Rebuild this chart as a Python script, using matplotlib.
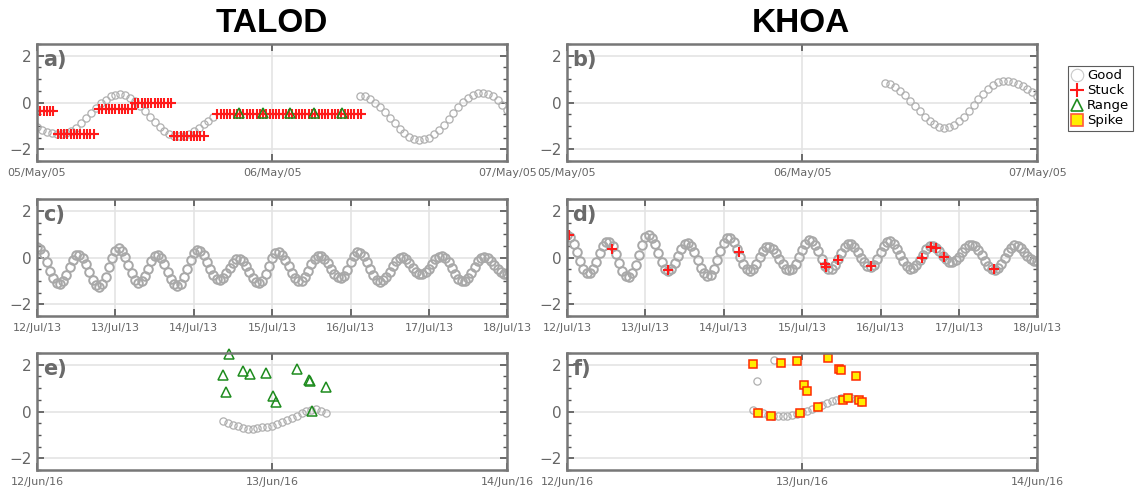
import numpy as np
import pandas as pd
import matplotlib
matplotlib.use("Agg")
import matplotlib.pyplot as plt
import matplotlib.dates as mdates
from matplotlib.lines import Line2D
from matplotlib.ticker import MultipleLocator

# ---------------- data ----------------
# a) TALOD, May 2005 - half-hourly good samples
a_t0 = pd.Timestamp("2005-05-05")
a_good1_h = np.arange(0, 18.01, 0.5)
a_good1 = [-1.05, -1.16, -1.25, -1.31, -1.34, -1.35,
           -1.31, -1.21, -1.07, -0.89, -0.68, -0.46, -0.24, -0.04, 0.13, 0.26, 0.33, 0.35,
           0.31, 0.20, 0.05, -0.14, -0.36, -0.60, -0.83, -1.04, -1.22, -1.35, -1.43, -1.45,
           -1.42, -1.35, -1.22, -1.08, -0.93, -0.78, -0.63]
a_good2_h = np.arange(33, 48.01, 0.5)
a_good2 = [0.30, 0.26, 0.16, 0.00, -0.19, -0.41, -0.65, -0.89, -1.11, -1.30, -1.46, -1.56, -1.60,
           -1.58, -1.50, -1.36, -1.18, -0.96, -0.71, -0.46, -0.21, 0.01, 0.19, 0.33, 0.41, 0.43,
           0.38, 0.27, 0.11, -0.10, -0.32]
# stuck runs: start hour, end hour, stuck level
a_stuck_runs = [(0.0, 1.75, -0.36), (2.1, 6.0, -1.36), (6.33, 9.85, -0.27),
                (10.0, 13.8, 0.0), (14.0, 17.3, -1.43), (18.4, 33.1, -0.50)]
a_range_h = [20.6, 23.1, 25.8, 28.3, 31.1]
a_range = [-0.45, -0.45, -0.44, -0.45, -0.44]

# b) KHOA, May 2005
b_good_h = np.arange(32.5, 48.01, 0.5)
b_good = [0.85, 0.79, 0.67, 0.51, 0.31, 0.08, -0.15, -0.38, -0.60, -0.79, -0.93, -1.03, -1.07,
          -1.05, -0.96, -0.81, -0.62, -0.38, -0.12, 0.14, 0.38, 0.60, 0.77, 0.88, 0.93,
          0.92, 0.88, 0.80, 0.70, 0.58, 0.44, 0.29]

# c) TALOD, July 2013 - hourly
c_t0 = pd.Timestamp("2013-07-12")
c_good_h = np.arange(0, 145)
c_good = [0.47, 0.38, 0.15, -0.19, -0.56, -0.88, -1.08,
          -1.11, -0.99, -0.73, -0.40, -0.11, 0.09,
          0.12, -0.01, -0.28, -0.63, -0.96, -1.19,
          -1.27, -1.15, -0.84, -0.42, 0.00, 0.30,
          0.40, 0.30, 0.04, -0.31, -0.67, -0.95, -1.08,
          -1.02, -0.80, -0.48, -0.16, 0.05,
          0.09, -0.03, -0.29, -0.61, -0.92, -1.14,
          -1.22, -1.12, -0.85, -0.48, -0.11, 0.18, 0.32,
          0.27, 0.09, -0.19, -0.49, -0.76, -0.93,
          -0.95, -0.86, -0.66, -0.43, -0.22, -0.08,
          -0.06, -0.16, -0.37, -0.63, -0.87, -1.04,
          -1.10, -0.99, -0.71, -0.35, -0.01, 0.20,
          0.24, 0.13, -0.09, -0.37, -0.66, -0.89, -1.01,
          -0.99, -0.84, -0.58, -0.29, -0.05, 0.08,
          0.07, -0.05, -0.25, -0.48, -0.69, -0.84,
          -0.88, -0.77, -0.52, -0.21, 0.06, 0.22,
          0.21, 0.06, -0.18, -0.47, -0.75, -0.95, -1.03,
          -0.98, -0.83, -0.60, -0.35, -0.13, 0.00,
          0.01, -0.08, -0.24, -0.43, -0.61, -0.71,
          -0.72, -0.63, -0.47, -0.27, -0.08, 0.04,
          0.08, -0.01, -0.20, -0.45, -0.72, -0.92, -1.02,
          -1.00, -0.86, -0.64, -0.39, -0.16, -0.01,
          0.03, -0.03, -0.15, -0.32, -0.49, -0.62, -0.69, -0.69]

# d) KHOA, July 2013 - hourly
d_good_h = np.arange(0, 145)
d_good = [0.95, 0.86, 0.60, 0.23, -0.16, -0.48, -0.66,
          -0.65, -0.47, -0.17, 0.19, 0.50, 0.67,
          0.66, 0.48, 0.15, -0.23, -0.58, -0.80,
          -0.84, -0.67, -0.32, 0.13, 0.55, 0.86,
          0.96, 0.85, 0.57, 0.18, -0.19, -0.47,
          -0.56, -0.47, -0.23, 0.08, 0.38, 0.58,
          0.61, 0.49, 0.23, -0.10, -0.43, -0.68, -0.80,
          -0.73, -0.48, -0.11, 0.30, 0.64, 0.83,
          0.82, 0.66, 0.37, 0.02, -0.29, -0.51,
          -0.58, -0.49, -0.27, 0.01, 0.27, 0.44,
          0.47, 0.38, 0.19, -0.05, -0.29, -0.47, -0.55,
          -0.49, -0.29, 0.01, 0.33, 0.60, 0.74,
          0.72, 0.54, 0.26, -0.07, -0.34, -0.49,
          -0.47, -0.32, -0.07, 0.21, 0.44, 0.57,
          0.56, 0.44, 0.24, 0.00, -0.21, -0.36,
          -0.40, -0.30, -0.07, 0.22, 0.49, 0.67,
          0.69, 0.58, 0.37, 0.11, -0.16, -0.37, -0.48,
          -0.46, -0.33, -0.11, 0.13, 0.35, 0.48,
          0.49, 0.41, 0.26, 0.08, -0.08, -0.18,
          -0.19, -0.11, 0.04, 0.23, 0.40, 0.52,
          0.55, 0.48, 0.31, 0.09, -0.15, -0.36, -0.50,
          -0.53, -0.44, -0.26, -0.02, 0.23, 0.42, 0.52,
          0.50, 0.40, 0.25, 0.08, -0.06, -0.14, -0.15]
d_stuck_d = [0.03, 0.57, 1.285, 2.19, 3.29, 3.31, 3.46, 3.88, 4.53, 4.64, 4.71, 4.81, 5.45]
d_stuck = [0.96, 0.38, -0.53, 0.25, -0.27, -0.40, -0.10, -0.38, 0.00, 0.46, 0.41, 0.02, -0.51]

# e) TALOD, June 2016
e_t0 = pd.Timestamp("2016-06-12")
e_good_h = np.arange(19, 29.51, 0.5)
e_good = [-0.40, -0.47, -0.56, -0.63, -0.70, -0.74, -0.74, -0.71, -0.68, -0.64, -0.60,
          -0.54, -0.46, -0.37, -0.27, -0.17, -0.08, 0.01, 0.07, 0.09, 0.04, -0.06]
e_range_d = [0.817, 0.789, 0.803, 0.876, 0.907, 0.975, 1.004, 1.018, 1.107, 1.156, 1.162, 1.170, 1.227]
e_range = [2.46, 1.56, 0.84, 1.73, 1.59, 1.67, 0.67, 0.39, 1.84, 1.34, 1.30, 0.04, 1.04]

# f) KHOA, June 2016
f_good_h = np.arange(19, 30.01, 0.5)
f_good = [0.06, -0.02, -0.08, -0.13, -0.17, -0.19, -0.20, -0.18, -0.15, -0.10, -0.03, 0.04,
          0.12, 0.20, 0.29, 0.37, 0.45, 0.51, 0.56, 0.60, 0.59, 0.53, 0.43]
f_good_extra_d = [0.807, 0.882]
f_good_extra = [1.31, 2.20]
f_spike_d = [0.790, 0.812, 0.868, 0.909, 0.980, 1.006, 0.991, 1.020, 1.066, 1.109,
             1.157, 1.167, 1.175, 1.193, 1.228, 1.243, 1.253]
f_spike = [2.04, -0.06, -0.17, 2.08, 2.15, 1.15, -0.06, 0.88, 0.20, 2.29,
           1.81, 1.77, 0.51, 0.56, 1.52, 0.48, 0.41]

# ---------------- styles ----------------
GOOD = dict(ls="none", marker="o", ms=5.2, mfc="none", mec="#b0b0b0", mew=0.9)
GOOD_DENSE = dict(ls="none", marker="o", ms=6.2, mfc="none", mec="#a8a8a8", mew=1.4)
STUCK = dict(ls="none", marker="+", ms=7, mec="#ff1a1a", mew=1.5)
RANGE = dict(ls="none", marker="^", ms=6.5, mfc="none", mec="#1e8c1e", mew=1.1)
SPIKE = dict(ls="none", marker="s", ms=5.5, mfc="#ffee00", mec="#ff2a00", mew=1.1)


def hours(t0, h):
    return t0 + pd.to_timedelta(np.asarray(h, dtype=float), unit="h")


def days(t0, d):
    return t0 + pd.to_timedelta(np.asarray(d, dtype=float), unit="D")


def style(ax, t0, ndays, label):
    ax.set_xlim(t0, t0 + pd.Timedelta(days=ndays))
    ax.set_ylim(-2.5, 2.5)
    ax.set_yticks([-2, 0, 2])
    ax.yaxis.set_minor_locator(MultipleLocator(0.5))
    ax.xaxis.set_major_locator(mdates.DayLocator())
    ax.xaxis.set_major_formatter(mdates.DateFormatter("%d/%b/%y"))
    ax.tick_params(which="both", direction="in", top=True, right=True, color="#555555")
    ax.tick_params(which="major", length=5, width=1.2)
    ax.tick_params(which="minor", length=3, width=1.0)
    ax.tick_params(axis="y", labelsize=11, labelcolor="#666666", pad=4)
    ax.tick_params(axis="x", labelsize=8, labelcolor="#666666", pad=5)
    ax.grid(True, which="major", color="#e4e4e4", lw=1.2)
    ax.set_axisbelow(True)
    for s in ax.spines.values():
        s.set_color("#777777")
        s.set_linewidth(1.8)
    ax.text(0.012, 0.95, label, transform=ax.transAxes, ha="left", va="top",
            fontsize=15, fontweight="bold", color="#6a6a6a")


fig = plt.figure(figsize=(11.36, 4.87), dpi=100)
lx, rx, w = 0.0326, 0.4991, 0.4140
rows = [0.6694, 0.3511, 0.0349]
h = 0.2400
ax_a = fig.add_axes([lx, rows[0], w, h])
ax_b = fig.add_axes([rx, rows[0], w, h])
ax_c = fig.add_axes([lx, rows[1], w, h])
ax_d = fig.add_axes([rx, rows[1], w, h])
ax_e = fig.add_axes([lx, rows[2], w, h])
ax_f = fig.add_axes([rx, rows[2], w, h])

# a)
ax_a.plot(hours(a_t0, a_good1_h), a_good1, **GOOD)
ax_a.plot(hours(a_t0, a_good2_h), a_good2, **GOOD)
for s, e, v in a_stuck_runs:
    hh = np.arange(s, e + 0.01, 1 / 3)
    ax_a.plot(hours(a_t0, hh), [v] * len(hh), **STUCK)
ax_a.plot(hours(a_t0, a_range_h), a_range, **RANGE)
style(ax_a, a_t0, 2, "a)")

# b)
ax_b.plot(hours(a_t0, b_good_h), b_good, **GOOD)
style(ax_b, a_t0, 2, "b)")

# c)
ax_c.plot(hours(c_t0, c_good_h), c_good, **GOOD_DENSE)
style(ax_c, c_t0, 6, "c)")

# d)
ax_d.plot(hours(c_t0, d_good_h), d_good, **GOOD_DENSE)
ax_d.plot(days(c_t0, d_stuck_d), d_stuck, **STUCK)
style(ax_d, c_t0, 6, "d)")

# e)
ax_e.plot(hours(e_t0, e_good_h), e_good, **GOOD)
ax_e.plot(days(e_t0, e_range_d), e_range, clip_on=False, **RANGE)
style(ax_e, e_t0, 2, "e)")

# f)
ax_f.plot(hours(e_t0, f_good_h), f_good, **GOOD)
ax_f.plot(days(e_t0, f_good_extra_d), f_good_extra, **GOOD)
ax_f.plot(days(e_t0, f_spike_d), f_spike, **SPIKE)
style(ax_f, e_t0, 2, "f)")

# column titles
title_font = ["Liberation Sans", "DejaVu Sans"]
fig.text(272 / 1136, 1 - 23 / 487, "TALOD", ha="center", va="center", fontsize=24,
         fontweight="bold", family=title_font)
fig.text(801 / 1136, 1 - 23 / 487, "KHOA", ha="center", va="center", fontsize=24,
         fontweight="bold", family=title_font)

# legend
handles = [Line2D([], [], ls="none", marker="o", ms=9, mfc="none", mec="#c8c8c8", mew=0.8),
           Line2D([], [], ls="none", marker="+", ms=10, mec="#ff1a1a", mew=1.5),
           Line2D([], [], ls="none", marker="^", ms=9, mfc="none", mec="#1e8c1e", mew=1.2),
           Line2D([], [], ls="none", marker="s", ms=8, mfc="#ffee00", mec="#ff5a3a", mew=1.2)]
leg = fig.legend(handles, ["Good", "Stuck", "Range", "Spike"], loc="upper left",
                 bbox_to_anchor=(1068 / 1136, 1 - 66 / 487), fontsize=9.5, frameon=True,
                 fancybox=False, handlelength=0.9, handletextpad=0.3, borderpad=0.25,
                 labelspacing=0.15, borderaxespad=0)
leg.get_frame().set_edgecolor("#333333")
leg.get_frame().set_linewidth(0.8)

fig.savefig("out.png", dpi=100)
